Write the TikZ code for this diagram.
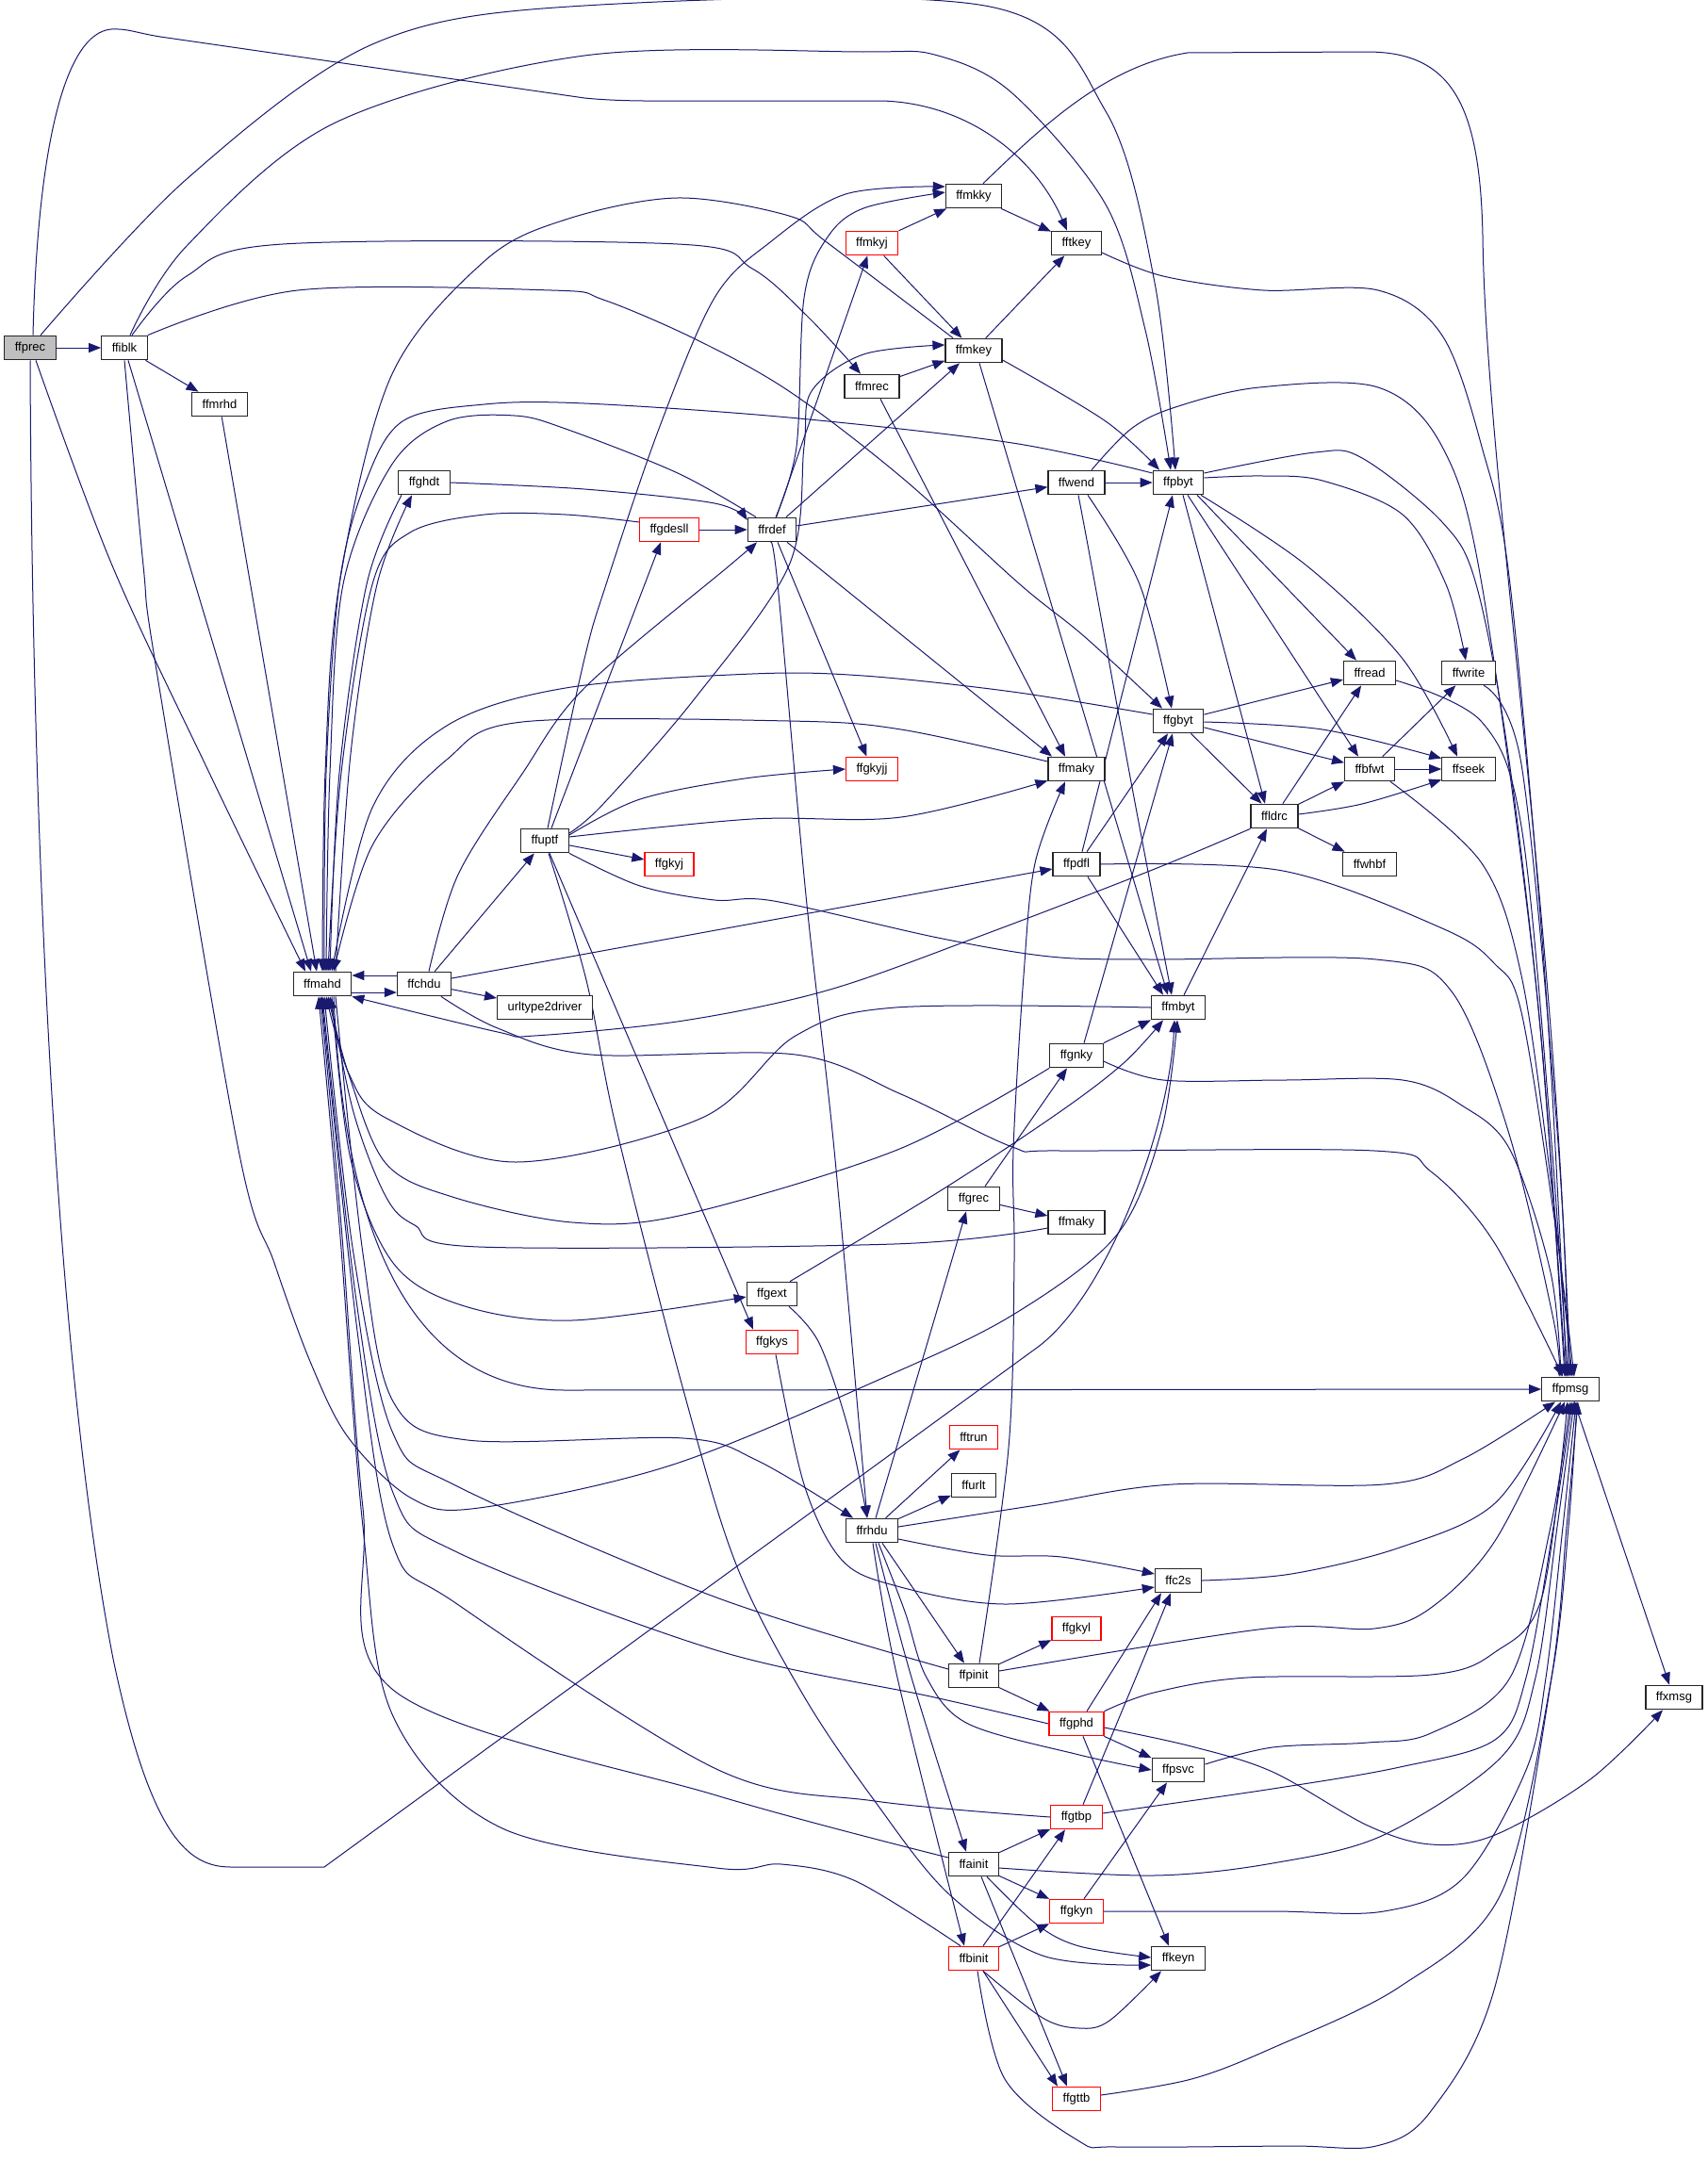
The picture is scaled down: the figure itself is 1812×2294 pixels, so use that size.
\documentclass[tikz,border=0pt]{standalone}
\usepackage{fontspec}
\setmainfont{Liberation Sans}
\usetikzlibrary{arrows.meta}
\definecolor{edgec}{HTML}{191970}
\definecolor{boxgray}{HTML}{BFBFBF}
\pgfdeclarelayer{bg}
\pgfsetlayers{bg,main}
\begin{document}
\begin{tikzpicture}[x=1pt,y=-1pt,
  fn/.style={draw=black!85, line width=1.2pt, fill=white, minimum height=25.5pt, inner xsep=11pt, inner ysep=0pt, font=\fontsize{13}{15}\selectfont, text=black},
  rn/.style={fn, draw=red},
  e/.style={draw=edgec, line width=1pt, -{Triangle[length=13pt,width=10pt]}},
  s/.style={smooth, tension=0.55}]
\useasboundingbox (0,0) rectangle (1812,2294);
% nodes
\node[fn, fill=boxgray] (ffprec) at (32,369) {ffprec};
\node[fn] (ffiblk) at (132,369) {ffiblk};
\node[fn] (ffmrhd) at (233,429) {ffmrhd};
\node[fn] (ffghdt) at (450,512) {ffghdt};
\node[fn] (ffmahd) at (342,1044) {ffmahd};
\node[fn] (ffchdu) at (450,1044) {ffchdu};
\node[fn] (urltype2driver) at (578,1069) {urltype2driver};
\node[fn] (ffuptf) at (578,892) {ffuptf};
\node[rn] (ffgdesll) at (710,562) {ffgdesll};
\node[fn] (ffrdef) at (819,562) {ffrdef};
\node[fn] (ffmkky) at (1033,208) {ffmkky};
\node[rn] (ffmkyj) at (925,258) {ffmkyj};
\node[fn] (fftkey) at (1142,258) {fftkey};
\node[fn] (ffmkey) at (1033,372) {ffmkey};
\node[fn] (ffmrec) at (925,410) {ffmrec};
\node[fn] (ffwend) at (1142,512) {ffwend};
\node[fn] (ffpbyt) at (1250,512) {ffpbyt};
\node[rn] (ffgkyjj) at (925,816) {ffgkyjj};
\node[fn] (ffmaky) at (1142,816) {ffmaky};
\node[rn] (ffgkyj) at (710,917) {ffgkyj};
\node[fn] (ffpdfl) at (1142,917) {ffpdfl};
\node[fn] (ffgnky) at (1142,1120) {ffgnky};
\node[fn] (ffread) at (1453,714) {ffread};
\node[fn] (ffwrite) at (1558,714) {ffwrite};
\node[fn] (ffgbyt) at (1250,765) {ffgbyt};
\node[fn] (ffbfwt) at (1453,816) {ffbfwt};
\node[fn] (ffseek) at (1558,816) {ffseek};
\node[fn] (ffldrc) at (1352,866) {ffldrc};
\node[fn] (ffwhbf) at (1453,917) {ffwhbf};
\node[fn] (ffmbyt) at (1250,1069) {ffmbyt};
\node[fn] (ffgrec) at (1033,1272) {ffgrec};
\node[fn] (ffmakyb) at (1142,1297) {ffmaky};
\node[fn] (ffgext) at (819,1373) {ffgext};
\node[rn] (ffgkys) at (819,1424) {ffgkys};
\node[rn] (fftrun) at (1033,1525) {fftrun};
\node[fn] (ffurlt) at (1033,1576) {ffurlt};
\node[fn] (ffrhdu) at (925,1624) {ffrhdu};
\node[fn] (ffc2s) at (1250,1677) {ffc2s};
\node[rn] (ffgkyl) at (1142,1728) {ffgkyl};
\node[fn] (ffpinit) at (1033,1778) {ffpinit};
\node[fn] (ffpmsg) at (1666,1474) {ffpmsg};
\node[fn] (ffxmsg) at (1776,1801) {ffxmsg};
\node[rn] (ffgphd) at (1142,1829) {ffgphd};
\node[fn] (ffpsvc) at (1250,1878) {ffpsvc};
\node[rn] (ffgtbp) at (1142,1928) {ffgtbp};
\node[fn] (ffainit) at (1033,1978) {ffainit};
\node[rn] (ffgkyn) at (1142,2028) {ffgkyn};
\node[rn] (ffbinit) at (1033,2078) {ffbinit};
\node[fn] (ffkeyn) at (1250,2078) {ffkeyn};
\node[rn] (ffgttb) at (1142,2227) {ffgttb};

\begin{pgfonlayer}{bg}
\fill[white] (0,0) rectangle (1812,2294);
% ffprec
\draw[e] (ffprec) -- (ffiblk);
\draw[e] plot[s] coordinates {([xshift=11pt]ffprec.north) (198,190) (395,47) (620,6) (1050,7) (1173,118) (1225,300) ([xshift=-3pt]ffpbyt.north)};
\draw[e] ([xshift=3pt]ffprec.north) .. controls (40,150) and (70,35) .. (118,31) .. controls (135,30) and (145,35) .. (170,39) -- (620,104) .. controls (660,108) and (700,107) .. (760,107) -- (936,107) .. controls (1030,110) and (1100,170) .. ([xshift=-10pt]fftkey.north);
\draw[e] plot[s] coordinates {([xshift=6pt]ffprec.south) (119,600) (222,820) ([xshift=-18pt]ffmahd.north)};
\draw[e] (ffprec.south) .. controls (34,900) and (60,1450) .. (120,1760) .. controls (160,1950) and (200,1981) .. (245,1981) -- (344,1981) -- (1100,1430) .. controls (1173,1377) and (1240,1200) .. ([xshift=-4pt]ffmbyt.south);
% ffiblk
\draw[e] (ffiblk) -- (ffmrhd);
\draw[e] plot[s] coordinates {([xshift=6pt]ffiblk.north) (198,261) (356,130) (620,59) (916,55) (995,59) (1074,99) (1173,217) (1215,350) ([xshift=-8pt]ffpbyt.north)};
\draw[e] plot[s] coordinates {([xshift=8pt]ffiblk.north) (198,293) (300,259) (719,259) (798,285) (857,336) ([xshift=-12pt]ffmrec.north)};
\draw[e] plot[s] coordinates {(ffiblk.north east) (316,308) (585,308) (640,318) (738,360) (837,415) (956,506) (1082,620) (1150,675) ([xshift=-17pt]ffgbyt.north)};
\draw[e] ([xshift=4pt]ffiblk.south) -- ([xshift=-12pt]ffmahd.north);
\draw[e] plot[s] coordinates {(ffiblk.south) (152,600) (166,711) (253,1220) (291,1340) (330,1447) (370,1526) (437,1590) (508,1600) (714,1554) (948,1457) (1078,1393) (1185,1310) (1232,1200) ([xshift=-1pt]ffmbyt.south)};
% ffmrhd
\draw[e] (ffmrhd) -- ([xshift=-6pt]ffmahd.north);
% ffghdt
\draw[e] plot[s] coordinates {(ffghdt.east) (620,519) (758,534) ([yshift=10pt]ffrdef.west)};
\draw[e] plot[s] coordinates {([xshift=-24pt]ffghdt.south) (389,620) (360,820) ([xshift=8pt]ffmahd.north)};
\draw[e] plot[s] coordinates {([xshift=14pt]ffmahd.north) (372,800) (400,620) ([xshift=-13pt]ffghdt.south)};
% ffgdesll
\draw[e] (ffgdesll) -- (ffrdef);
\draw[e] plot[s] coordinates {([yshift=8pt]ffgdesll.west) (600,546) (514,546) (435,565) (395,620) (362,820) ([xshift=6pt]ffmahd.north)};
% ffrdef
\draw[e] plot[s] coordinates {([xshift=-17pt]ffrdef.north) (719,502) (600,455) (546,441) (474,447) (415,494) (364,620) (350,820) ([xshift=4pt]ffmahd.north)};
\draw[e] plot[s] coordinates {([xshift=4pt]ffrdef.north) (845,474) (853,316) (877,253) (916,221) ([yshift=4pt]ffmkky.west)};
\draw[e] (ffrdef) -- (ffmkyj);
\draw[e] (ffrdef) -- (ffmkey);
\draw[e] (ffrdef) -- (ffwend);
\draw[e] ([xshift=6pt]ffrdef.south) -- (ffgkyjj);
\draw[e] ([xshift=16pt]ffrdef.south) -- ([xshift=-26pt]ffmaky.north);
\draw[e] plot[s] coordinates {([xshift=-2pt]ffrdef.south) (825,620) (855,950) (885,1220) ([xshift=-5pt]ffrhdu.north)};
% ffmkky
\draw[e] (ffmkky) -- (fftkey);
\draw[e] ([xshift=10pt]ffmkky.north) .. controls (1100,140) and (1170,70) .. (1260,56) -- (1450,55) .. controls (1540,55) and (1570,110) .. (1573,250) .. controls (1576,500) and (1655,1000) .. ([xshift=-2pt]ffpmsg.north);
% ffmkyj
\draw[e] (ffmkyj) -- (ffmkky);
\draw[e] (ffmkyj) -- (ffmkey);
% fftkey
\draw[e] plot[s] coordinates {([yshift=-10pt]fftkey.east) (1234,293) (1340,308) (1462,308) (1530,356) (1572,474) (1602,620) (1640,1050) ([xshift=-4pt]ffpmsg.north)};
% ffmkey
\draw[e] (ffmkey) -- (fftkey);
\draw[e] plot[s] coordinates {([yshift=-10pt]ffmkey.east) (1173,447) ([xshift=-20pt]ffpbyt.north)};
\draw[e] ([xshift=6pt]ffmkey.south) -- ([xshift=-11pt]ffmbyt.north);
\draw[e] plot[s] coordinates {([xshift=-22pt]ffmkey.north) (877,257) (837,229) (719,210) (600,233) (514,277) (415,399) (360,620) (345,820) (ffmahd.north)};
% ffmrec
\draw[e] (ffmrec) -- (ffmkey);
\draw[e] ([xshift=9pt]ffmrec.south) -- ([xshift=-12pt]ffmaky.north);
% ffwend
\draw[e] (ffwend) -- (ffpbyt);
\draw[e] plot[s] coordinates {([xshift=12pt]ffwend.south) (1209,620) ([xshift=-7pt]ffgbyt.north)};
\draw[e] plot[s] coordinates {([xshift=2pt]ffwend.south) (1158,600) (1200,830) ([xshift=-7pt]ffmbyt.north)};
\draw[e] plot[s] coordinates {([xshift=16pt]ffwend.north) (1200,455) (1247,432) (1336,411) (1462,411) (1530,474) (1572,620) (1630,1050) ([xshift=-6pt]ffpmsg.north)};
% ffpbyt
\draw[e] plot[s] coordinates {([yshift=10pt]ffpbyt.west) (1074,470) (837,443) (620,428) (514,429) (427,447) (387,514) (360,620) (346,820) ([xshift=2pt]ffmahd.north)};
\draw[e] plot[s] coordinates {([yshift=10pt]ffpbyt.east) (1395,480) (1445,486) (1530,554) (1566,620) (1600,800) (1635,1100) ([xshift=-5pt]ffpmsg.north)};
\draw[e] plot[s] coordinates {([yshift=5pt]ffpbyt.east) (1340,505) (1403,510) (1488,546) (1534,620) ([xshift=-3pt]ffwrite.north)};
\draw[e] ([xshift=5pt]ffpbyt.south) -- ([xshift=-10pt]ffldrc.north);
\draw[e] ([xshift=10pt]ffpbyt.south) -- ([xshift=-12pt]ffbfwt.north);
\draw[e] ([xshift=20pt]ffpbyt.south) -- ([xshift=-14pt]ffread.north);
\draw[e] plot[s] coordinates {([xshift=24pt]ffpbyt.south) (1386,600) (1488,699) ([xshift=-12pt]ffseek.north)};
% ffread, ffwrite
\draw[e] plot[s] coordinates {([yshift=-8pt]ffread.east) (1572,766) (1614,877) (1645,1200) ([xshift=-3pt]ffpmsg.north)};
\draw[e] plot[s] coordinates {([xshift=16pt]ffwrite.south) (1614,811) (1652,1200) (ffpmsg.north)};
% ffgbyt
\draw[e] (ffgbyt) -- (ffread);
\draw[e] (ffgbyt) -- (ffbfwt);
\draw[e] plot[s] coordinates {([yshift=-1pt]ffgbyt.east) (1403,774) ([yshift=-2pt]ffseek.north west)};
\draw[e] (ffgbyt) -- (ffldrc);
\draw[e] plot[s] coordinates {([yshift=7pt]ffgbyt.west) (1074,734) (916,717) (798,715) (600,730) (474,770) (395,857) ([xshift=10pt]ffmahd.north)};
% ffbfwt
\draw[e] (ffbfwt) -- (ffwrite);
\draw[e] (ffbfwt) -- (ffseek);
\draw[e] plot[s] coordinates {([xshift=22pt]ffbfwt.south) (1572,916) (1614,1035) (1645,1250) ([xshift=2pt]ffpmsg.north)};
% ffldrc
\draw[e] (ffldrc) -- (ffread);
\draw[e] (ffldrc) -- (ffbfwt);
\draw[e] plot[s] coordinates {([yshift=2pt]ffldrc.east) (1445,853) ([yshift=2pt]ffseek.south west)};
\draw[e] (ffldrc) -- (ffwhbf);
\draw[e] plot[s] coordinates {(ffldrc.south west) (1220,924) (1035,995) (877,1051) (725,1083) (567,1099) (528,1095) (ffmahd.south east)};
% ffpdfl
\draw[e] ([xshift=6pt]ffpdfl.north) -- ([xshift=-6pt]ffpbyt.south);
\draw[e] ([xshift=11pt]ffpdfl.north) -- ([xshift=-11pt]ffgbyt.south);
\draw[e] ([xshift=12pt]ffpdfl.south) -- ([xshift=-16pt]ffmbyt.north);
\draw[e] plot[s] coordinates {(ffpdfl.east) (1361,924) (1530,985) (1585,1022) (1614,1074) (1650,1300) ([xshift=4pt]ffpmsg.north)};
% ffgnky
\draw[e] ([xshift=8pt]ffgnky.north) -- ([xshift=-6pt]ffgbyt.south);
\draw[e] (ffgnky.north east) -- (ffmbyt.south west);
\draw[e] plot[s] coordinates {([yshift=-6pt]ffgnky.east) (1234,1146) (1361,1146) (1488,1146) (1551,1173) (1602,1220) (1645,1350) ([xshift=-10pt]ffpmsg.north)};
\draw[e] plot[s] coordinates {(ffgnky.south west) (952,1220) (725,1289) (607,1297) (480,1270) (409,1234) (370,1140) ([xshift=6pt]ffmahd.south)};
% ffmbyt
\draw[e] ([xshift=6pt]ffmbyt.north) -- ([xshift=-8pt]ffldrc.south);
\draw[e] plot[s] coordinates {(ffmbyt.west) (950,1069) (844,1099) (745,1186) (547,1233) (409,1186) (370,1139) ([xshift=4pt]ffmahd.south)};
% ffmaky
\draw[e] plot[s] coordinates {([yshift=8pt]ffmaky.west) (956,774) (837,765) (554,766) (474,806) (395,897) ([xshift=12pt]ffmahd.north)};
% ffchdu
\draw[e] ([yshift=9pt]ffchdu.west) -- ([yshift=9pt]ffmahd.east);
\draw[e] ([yshift=-9pt]ffmahd.east) -- ([yshift=-9pt]ffchdu.west);
\draw[e] (ffchdu) -- (ffuptf);
\draw[e] (ffchdu) -- (urltype2driver);
\draw[e] ([yshift=6pt]ffchdu.east) -- ([yshift=-5pt]ffpdfl.west);
\draw[e] plot[s] coordinates {([xshift=5pt]ffchdu.north) (486,928) (554,821) (620,730) (774,600) ([xshift=-16pt]ffrdef.south)};
\draw[e] plot[s] coordinates {([xshift=18pt]ffchdu.south) (528,1091) (627,1119) (844,1119) (956,1161) (1074,1217) (1126,1221) (1458,1221) (1518,1243) (1585,1318) ([xshift=-8pt]ffpmsg.north)};
% ffuptf
\draw[e] ([xshift=7pt]ffuptf.north) -- ([xshift=-9pt]ffgdesll.south);
\draw[e] plot[s] coordinates {([xshift=3pt]ffuptf.north) (620,699) (643,620) (699,455) (758,316) (817,257) (897,206) ([yshift=10pt]ffmkky.west)};
\draw[e] plot[s] coordinates {([yshift=8pt]ffuptf.east) (640,853) (738,740) (837,600) (853,474) (861,415) (916,376) ([yshift=6pt]ffmkey.west)};
\draw[e] plot[s] coordinates {([yshift=6pt]ffuptf.east) (679,848) (790,826) (ffgkyjj.west)};
\draw[e] plot[s] coordinates {([yshift=4pt]ffuptf.east) (798,869) (956,867) ([yshift=1pt]ffmaky.south west)};
\draw[e] (ffuptf) -- (ffgkyj);
\draw[e] plot[s] coordinates {(ffuptf.south east) (679,940) (758,955) (821,956) (995,995) (1114,1015) (1220,1018) (1460,1018) (1540,1052) (1600,1200) (1648,1400) ([xshift=-12pt]ffpmsg.north)};
\draw[e] ([xshift=5pt]ffuptf.south) -- ([xshift=-20pt]ffgkys.north);
\draw[e] plot[s] coordinates {([xshift=4pt]ffuptf.south) (622,1040) (654,1198) (725,1475) (781,1660) (853,1800) (928,1911) (1007,2010) (1106,2075) ([yshift=-7pt]ffkeyn.west)};
% ffgrec
\draw[e] (ffgrec) -- (ffmakyb);
\draw[e] ([xshift=12pt]ffgrec.north) -- ([xshift=-10pt]ffgnky.south);
% ffmaky (2)
\draw[e] plot[s] coordinates {([yshift=-6pt]ffmakyb.west) (948,1320) (508,1323) (440,1300) (409,1269) (375,1180) ([xshift=8pt]ffmahd.south)};
% ffgext
\draw[e] plot[s] coordinates {([xshift=19pt]ffgext.north) (1000,1262) (1124,1180) (1192,1128) ([xshift=-16pt]ffmbyt.south)};
\draw[e] plot[s] coordinates {([xshift=18pt]ffgext.south) (869,1425) (900,1516) ([xshift=-5pt]ffrhdu.north)};
% ffgkys
\draw[e] plot[s] coordinates {([xshift=4pt]ffgkys.south) (853,1575) (892,1654) (948,1682) (1066,1702) ([yshift=-7pt]ffc2s.west)};
% ffrhdu
\draw[e] ([xshift=4pt]ffrhdu.north) -- ([xshift=-8pt]ffgrec.south);
\draw[e] (ffrhdu) -- (fftrun);
\draw[e] (ffrhdu) -- (ffurlt);
\draw[e] plot[s] coordinates {([yshift=4pt]ffrhdu.east) (1100,1597) (1244,1575) (1468,1575) (1552,1548) ([xshift=-16pt]ffpmsg.south)};
\draw[e] plot[s] coordinates {([yshift=-9pt]ffrhdu.east) (1047,1650) (1126,1652) ([yshift=7pt]ffc2s.west)};
\draw[e] ([xshift=11pt]ffrhdu.south) -- ([xshift=-10pt]ffpinit.north);
\draw[e] plot[s] coordinates {([xshift=7pt]ffrhdu.south) (960,1710) (983,1780) (1027,1829) (1145,1862) (ffpsvc.west)};
\draw[e] plot[s] coordinates {([xshift=4pt]ffrhdu.south) (967,1780) ([xshift=-8pt]ffainit.north)};
\draw[e] plot[s] coordinates {([xshift=1pt]ffrhdu.south) (952,1780) ([xshift=-10pt]ffbinit.north)};
% ffpinit
\draw[e] (ffpinit) -- (ffgkyl);
\draw[e] (ffpinit) -- (ffgphd);
\draw[e] plot[s] coordinates {([xshift=6pt]ffpinit.north) (1070,1536) (1076,1338) (1075,1220) (1086,1035) (1098,916) ([xshift=-12pt]ffmaky.south)};
\draw[e] plot[s] coordinates {([yshift=5pt]ffpinit.east) (1343,1728) (1458,1728) (1518,1706) (1586,1635) ([xshift=-6pt]ffpmsg.south)};
\draw[e] plot[s] coordinates {([yshift=7pt]ffpinit.west) (760,1695) (485,1577) (417,1521) (375,1330) ([xshift=2pt]ffmahd.south)};
% ffc2s
\draw[e] plot[s] coordinates {(ffc2s.east) (1370,1670) (1485,1642) (1586,1595) ([xshift=-10pt]ffpmsg.south)};
% ffgphd
\draw[e] ([xshift=11pt]ffgphd.north) -- ([xshift=-18pt]ffc2s.south);
\draw[e] (ffgphd) -- (ffpsvc);
\draw[e] ([xshift=7pt]ffgphd.south) -- ([xshift=-10pt]ffkeyn.north);
\draw[e] plot[s] coordinates {(ffgphd.north east) (1224,1796) (1323,1780) (1518,1777) (1586,1753) (1636,1694) ([xshift=-3pt]ffpmsg.south)};
\draw[e] plot[s] coordinates {([yshift=-4pt]ffgphd.east) (1264,1853) (1350,1880) (1451,1937) (1518,1957) (1586,1947) (1687,1888) ([xshift=-12pt]ffxmsg.south)};
\draw[e] plot[s] coordinates {(ffgphd.west) (987,1800) (760,1751) (485,1647) (417,1584) (378,1380) (ffmahd.south)};
% ffpsvc
\draw[e] plot[s] coordinates {([yshift=6pt]ffpsvc.east) (1350,1854) (1451,1849) (1518,1839) (1602,1780) (1645,1620) (ffpmsg.south)};
% ffgtbp
\draw[e] plot[s] coordinates {([xshift=7pt]ffgtbp.north) (1205,1780) ([xshift=-8pt]ffc2s.south)};
\draw[e] plot[s] coordinates {([yshift=4pt]ffgtbp.east) (1350,1898) (1485,1875) (1586,1846) (1619,1780) (1648,1620) ([xshift=2pt]ffpmsg.south)};
\draw[e] plot[s] coordinates {(ffgtbp.west) (928,1911) (760,1877) (485,1702) (417,1640) (380,1420) ([xshift=-1pt]ffmahd.south)};
% ffainit
\draw[e] (ffainit) -- (ffgtbp);
\draw[e] (ffainit) -- (ffgkyn);
\draw[e] plot[s] coordinates {([xshift=14pt]ffainit.south) (1100,2042) (1145,2065) ([yshift=1pt]ffkeyn.west)};
\draw[e] ([xshift=8pt]ffainit.south) -- ([xshift=-10pt]ffgttb.north);
\draw[e] plot[s] coordinates {([yshift=-4pt]ffainit.east) (1224,1990) (1350,1977) (1468,1947) (1592,1865) (1629,1780) (1652,1620) ([xshift=4pt]ffpmsg.south)};
\draw[e] plot[s] coordinates {([yshift=7pt]ffainit.west) (760,1905) (417,1793) (385,1600) (362,1300) ([xshift=-2pt]ffmahd.south)};
% ffgkyn
\draw[e] ([xshift=8pt]ffgkyn.north) -- ([xshift=-12pt]ffpsvc.south);
\draw[e] plot[s] coordinates {(ffgkyn.east) (1350,2028) (1468,2028) (1552,1993) (1619,1878) (1640,1780) (1658,1620) ([xshift=6pt]ffpmsg.south)};
% ffbinit
\draw[e] ([xshift=10pt]ffbinit.north) -- ([xshift=-12pt]ffgtbp.south);
\draw[e] (ffbinit) -- (ffgkyn);
\draw[e] plot[s] coordinates {([xshift=10pt]ffbinit.south) (1106,2141) (1145,2152) (1177,2144) ([xshift=-18pt]ffkeyn.south)};
\draw[e] ([xshift=10pt]ffbinit.south) -- ([xshift=-20pt]ffgttb.north);
\draw[e] plot[s] coordinates {([xshift=4pt]ffbinit.south) (1066,2206) (1145,2272) (1185,2278) (1370,2277) (1460,2277) (1518,2240) (1586,2108) (1646,1780) (1662,1620) ([xshift=8pt]ffpmsg.south)};
\draw[e] plot[s] coordinates {([xshift=-14pt]ffbinit.north) (908,1996) (829,1978) (760,1982) (533,1940) (417,1821) (385,1620) (360,1300) ([xshift=-4pt]ffmahd.south)};
% ffgttb
\draw[e] plot[s] coordinates {([yshift=4pt]ffgttb.east) (1264,2206) (1350,2173) (1485,2108) (1592,2010) (1646,1780) (1664,1620) ([xshift=7pt]ffpmsg.south)};
% ffmahd outgoing
\draw[e] plot[s] coordinates {([xshift=10pt]ffmahd.south) (372,1230) (417,1340) (490,1385) (607,1401) ([yshift=-3pt]ffgext.west)};
\draw[e] ([xshift=12pt]ffmahd.south) .. controls (365,1300) and (430,1475) .. (600,1475) -- (ffpmsg.west);
\draw[e] plot[s] coordinates {([xshift=14pt]ffmahd.south) (385,1330) (417,1487) (496,1528) (725,1526) (804,1550) ([xshift=-20pt]ffrhdu.north)};
% ffpmsg
\draw[e] ([xshift=4pt]ffpmsg.south) -- ([xshift=-5pt]ffxmsg.north);
\end{pgfonlayer}
\end{tikzpicture}
\end{document}
